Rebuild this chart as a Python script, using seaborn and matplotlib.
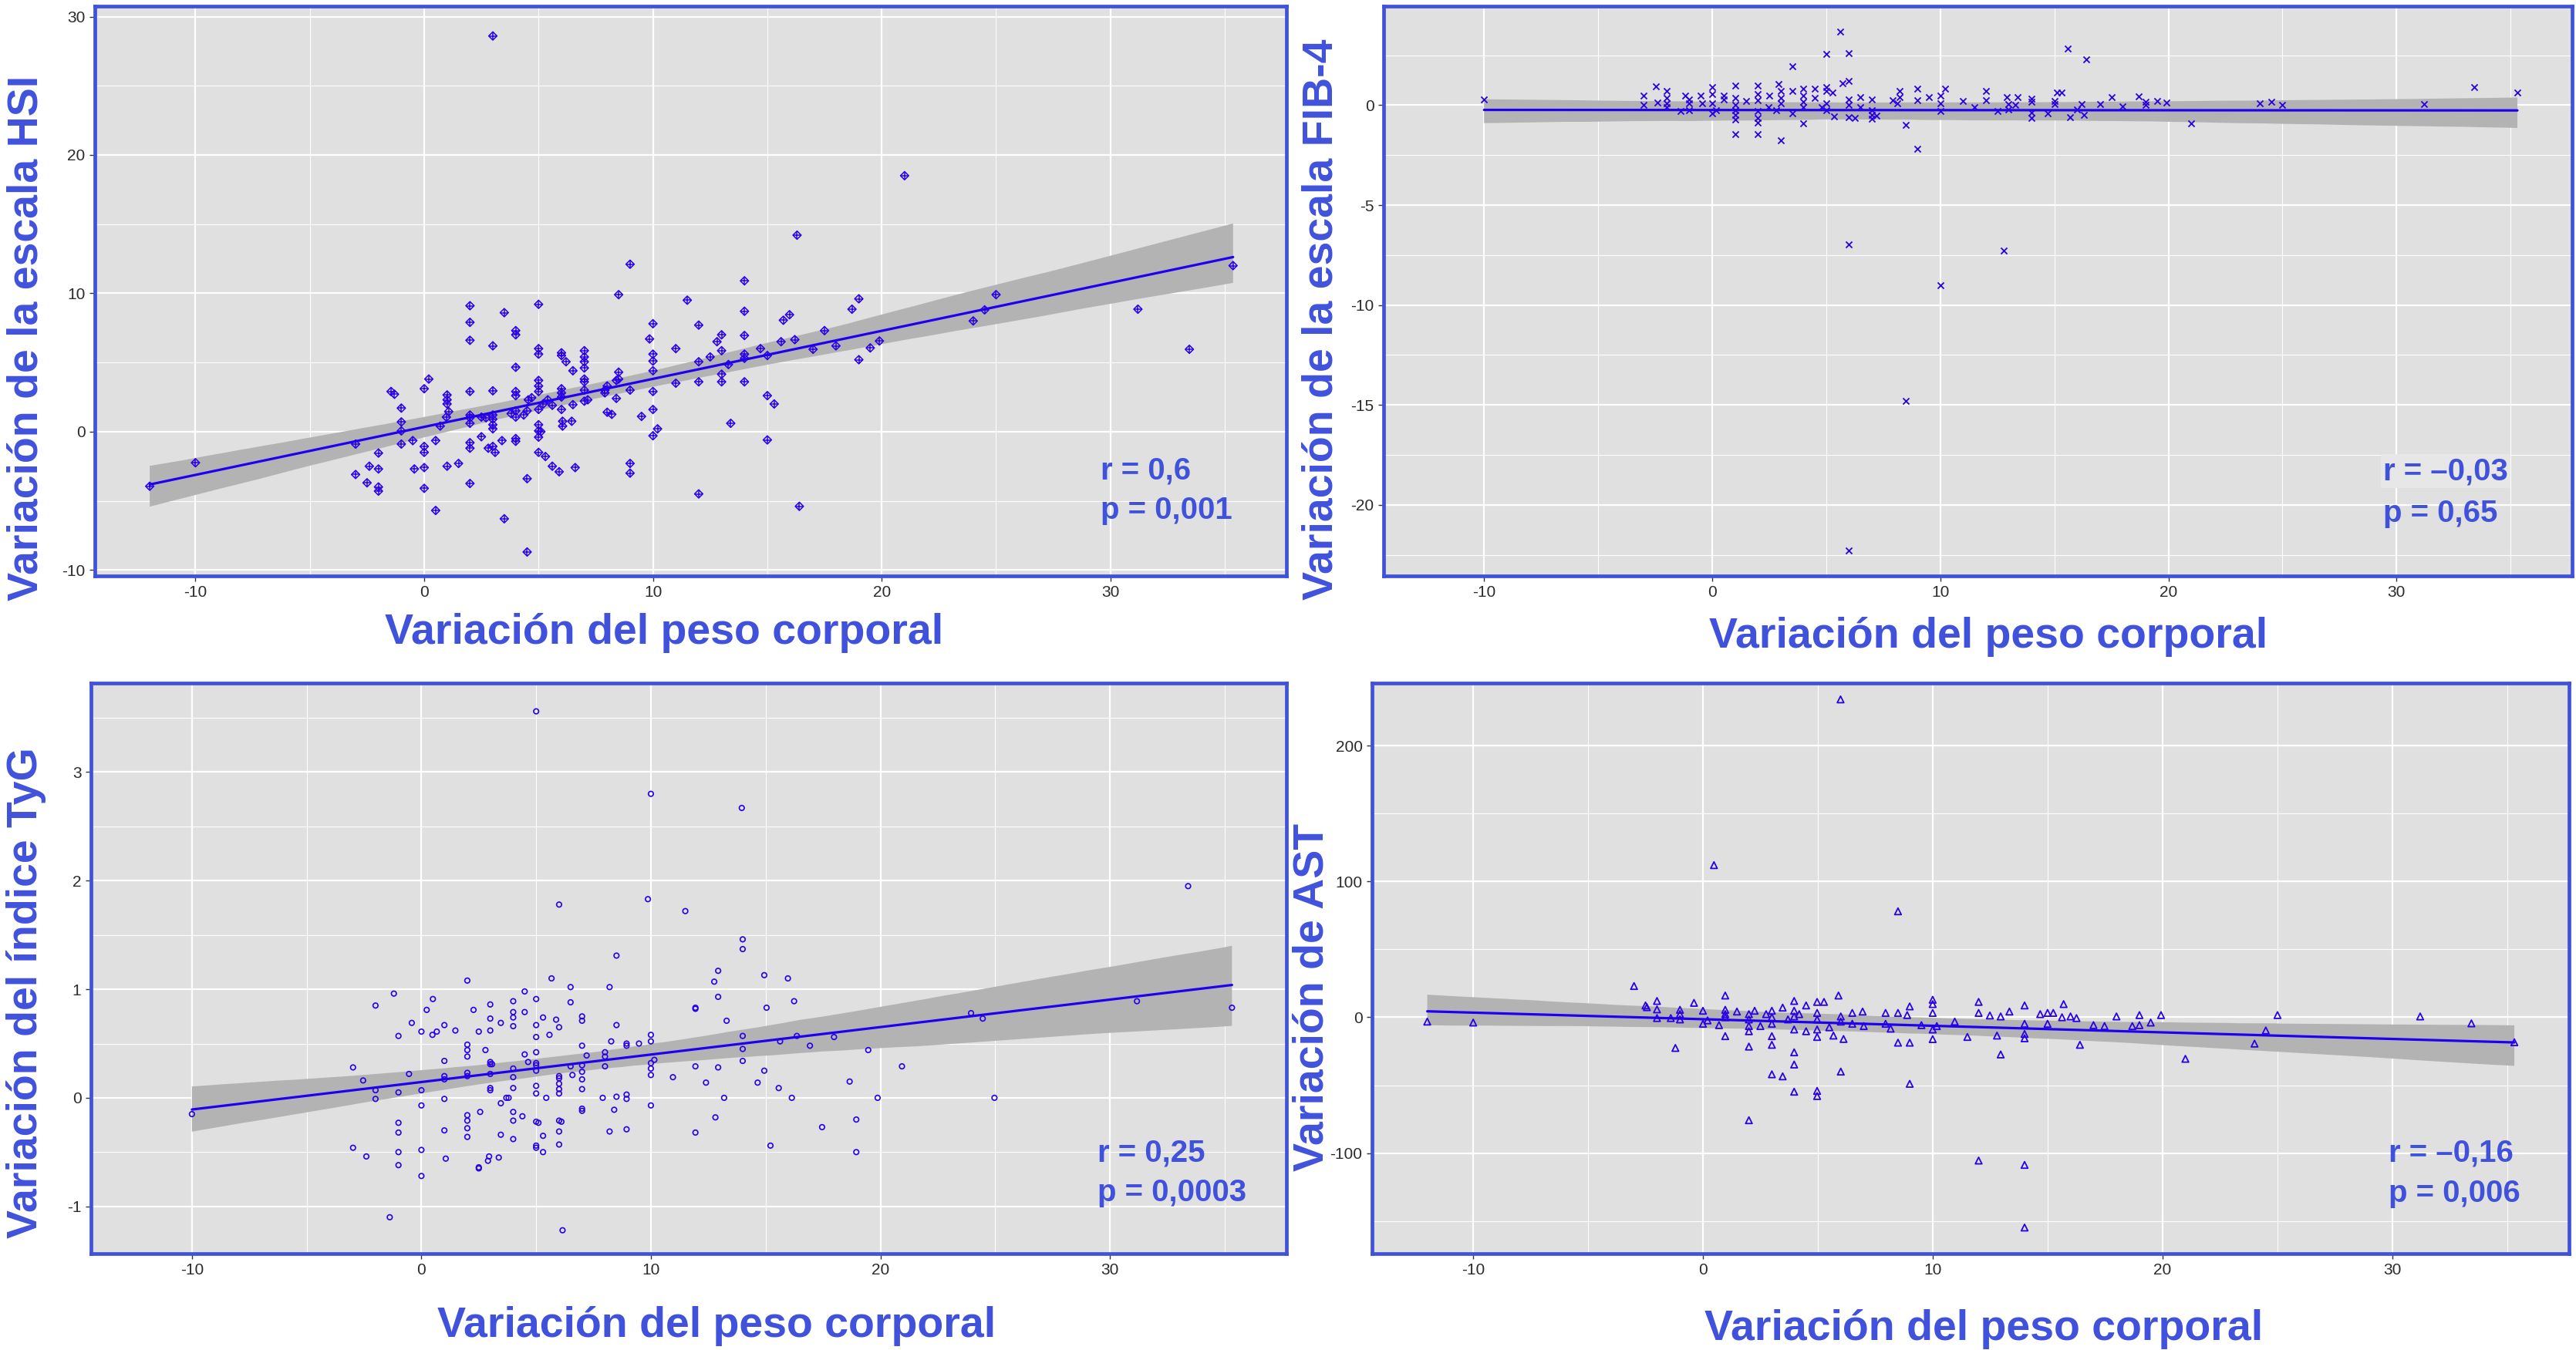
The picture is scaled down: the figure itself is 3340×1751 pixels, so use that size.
import numpy as np
import pandas as pd
import seaborn as sns
import matplotlib.pyplot as plt
from matplotlib.ticker import MultipleLocator

# ---------------- data ----------------
x_label = "Variación del peso corporal"
y_labels = ["Variación de la escala HSI", "Variación de la escala FIB-4",
            "Variación del índice TyG", "Variación de AST"]
r_texts = ["r = 0,6", "r = –0,03", "r = 0,25", "r = –0,16"]
p_texts = ["p = 0,001", "p = 0,65", "p = 0,0003", "p = 0,006"]

hsi_points = [
    (3.0,28.6),(9.0,12.1),(8.5,9.9),(14.0,10.9),(11.5,9.5),(2.0,9.1),(5.0,9.2),(3.5,8.6),(14.0,8.7),
    (2.0,7.9),(10.0,7.8),(12.0,7.7),(4.0,7.3),(4.0,7.0),(14.0,6.95),(13.0,7.0),(12.8,6.5),(2.0,6.6),
    (9.85,6.7),(3.0,6.2),(11.0,6.0),(5.0,6.0),(5.0,5.6),(6.0,5.7),(6.0,5.5),(7.0,5.85),(7.0,5.4),
    (7.0,5.05),(7.0,4.6),(7.0,3.8),(7.0,3.6),(10.0,5.6),(10.0,5.1),(10.0,4.4),(13.0,5.85),(12.5,5.4),
    (12.0,5.05),(13.3,4.85),(14.0,5.6),(14.0,5.3),(14.7,6.0),(15.0,5.5),(4.0,4.65),(6.2,5.05),(6.5,4.4),
    (8.5,4.3),(8.5,3.8),(8.4,3.7),(5.0,3.7),(5.0,3.3),(5.0,2.9),(6.0,3.1),(6.0,2.8),(6.0,2.5),(12.0,3.6),
    (11.0,3.5),(13.0,3.6),(14.0,3.6),(13.0,4.15),(7.0,3.0),(7.0,2.2),(7.15,2.3),(7.9,2.8),(7.9,3.0),
    (8.0,3.3),(8.4,2.4),(9.0,3.0),(10.0,2.9),(10.0,1.6),(9.5,1.1),(10.2,0.2),(10.0,-0.3),(8.0,1.4),
    (8.2,1.25),(13.4,0.6),(15.0,2.6),(15.3,2.0),(15.0,-0.6),(12.0,-4.5),(9.0,-2.3),(9.0,-3.0),(4.0,2.9),
    (4.0,2.6),(4.55,2.3),(4.7,2.45),(5.2,2.0),(5.4,2.3),(5.6,1.9),(5.0,1.6),(4.5,1.5),(4.35,1.2),(4.0,1.5),
    (3.8,1.3),(4.0,1.05),(3.0,2.95),(3.0,1.2),(3.0,0.9),(3.0,0.5),(3.0,0.2),(2.5,1.05),(2.7,1.0),(2.0,1.2),
    (2.0,1.0),(2.0,0.6),(2.0,2.9),(1.0,2.65),(1.0,2.3),(1.0,2.0),(1.07,1.45),(0.97,1.05),(0.7,0.4),
    (0.5,-0.65),(0.0,3.1),(0.2,3.8),(-1.0,1.7),(-1.0,0.7),(-1.0,0.05),(-1.0,-0.9),(-1.3,2.7),(-1.45,2.9),
    (-0.5,-0.65),(0.0,-1.07),(0.0,-1.5),(2.0,-0.8),(2.0,-1.2),(2.5,-0.37),(2.8,-1.2),(3.0,-1.07),
    (3.1,-1.5),(3.4,-0.65),(4.0,-0.5),(4.0,-0.7),(5.0,0.5),(5.0,0.05),(5.0,-0.4),(5.1,0.0),(6.05,0.75),
    (6.05,0.4),(6.45,0.75),(6.0,1.6),(6.5,1.95),(5.0,-1.5),(5.3,-1.8),(5.6,-2.5),(5.9,-2.9),(6.6,-2.6),
    (4.5,-3.4),(3.5,-6.3),(4.5,-8.7),(0.5,-5.7),(2.0,-3.75),(1.0,-2.5),(1.5,-2.3),(0.0,-2.6),(-0.43,-2.7),
    (0.0,-4.1),(-2.0,-1.55),(-2.0,-2.7),(-2.0,-4.0),(-2.0,-4.3),(-2.4,-2.5),(-2.5,-3.7),(-3.0,-3.1),
    (-3.0,-0.9),(-10.0,-2.25),(-12.0,-3.95),(21.0,18.5),(16.3,14.2),(19.0,9.6),(18.7,8.85),(15.7,8.05),
    (15.97,8.45),(17.5,7.3),(15.6,6.5),(16.2,6.65),(17.0,5.95),(18.0,6.2),(19.5,6.05),(19.9,6.55),
    (19.0,5.2),(16.4,-5.4),(24.0,8.0),(24.5,8.8),(25.0,9.9),(31.2,8.85),(33.45,5.95),(35.36,12.0),
]

fib4_points = [
    (-10,0.3),(-3.0,0.5),(-3.0,0.0),(-2.48,0.96),(-2,0.73),(-2,0.36),(-2,0.08),(-2,-0.1),(-2.4,0.13),
    (-1.38,-0.3),(-1.2,0.5),(-1,0.3),(-1,0.08),(-1,-0.26),(-0.5,0.5),(-0.45,0.08),(0,0.9),(0,0.55),
    (0,0.08),(0,-0.4),(0.17,-0.26),(0.52,0.5),(0.52,0.3),(1,0.98),(1,0.36),(1,0.0),(1,-0.26),(1,-0.5),
    (1,-0.7),(1,-1.43),(1.5,0.22),(2,0.98),(2,0.55),(2,0.26),(2,-0.3),(2,-0.64),(2,-0.86),(2,-1.43),
    (2.5,0.5),(2.46,-0.1),(2.9,1.05),(3,0.73),(3,0.36),(3,0.08),(2.8,-0.26),(3,-1.75),(3.5,1.95),
    (3.5,0.73),(3.5,-0.4),(4,0.83),(4,0.5),(4,0.17),(4,-0.1),(4,-0.92),(4.5,0.83),(4.5,0.36),(4.8,-0.1),
    (5,2.57),(5,0.92),(5,0.73),(5,0.08),(5,-0.26),(5.27,0.64),(5.33,-0.55),(5.6,3.7),(5.7,1.1),(6,2.6),
    (6,1.2),(6,0.3),(6,0.0),(6,-0.58),(6,-6.96),(6,-22.3),(6.24,-0.64),(6.5,0.4),(6.5,-0.1),(7,0.3),
    (7,-0.26),(7,-0.5),(7,-0.68),(7.2,-0.52),(7.9,0.26),(8.1,0.08),(8.2,0.73),(8.2,0.4),(8.5,-1.0),
    (8.5,-14.8),(9,0.83),(9,0.26),(9,-2.2),(9.5,0.4),(10,0.5),(10,0.08),(10,-0.3),(10,-9.0),(10.2,0.83),
    (11,0.22),(11.5,-0.1),(12,0.73),(12,0.26),(12.5,-0.3),(12.77,-7.28),(12.9,0.42),(13.0,0.06),
    (13.0,-0.21),(13.4,0.42),(13.3,0),(14,0.34),(14,0.17),(14,-0.36),(14,-0.63),(14.7,-0.4),(15,0.21),
    (15,0.06),(15.1,0.63),(15.3,0.63),(15.6,2.85),(16.4,2.28),(15.7,-0.61),(16,-0.21),(16.3,-0.47),
    (16.2,0.06),(17,0.06),(17.5,0.42),(18,-0.04),(18.7,0.44),(19,0.17),(19,0),(19.5,0.23),(19.9,0.13),
    (21,-0.89),(24,0.1),(24.5,0.17),(25,0),(31.2,0.06),(33.4,0.9),(35.3,0.63),
]

tyg_points = [
    (-10,-0.15),(-2.98,0.28),(-2.98,-0.46),(-2.4,-0.54),(-2.0,0.85),(-2.0,0.07),(-2.0,-0.01),(-2.54,0.16),
    (-1.38,-1.1),(-1.2,0.96),(-1,0.57),(-1,0.05),(-1,-0.23),(-1,-0.32),(-1,-0.5),(-1,-0.62),(-0.54,0.22),
    (-0.42,0.69),(0,0.61),(0,0.07),(0,-0.07),(0,-0.48),(0,-0.72),(0.23,0.81),(0.5,0.91),(0.48,0.58),
    (0.67,0.61),(1,0.67),(1,0.34),(1,0.2),(1,0.17),(1,-0.01),(1,-0.3),(1.06,-0.56),(1.48,0.62),(2,1.08),
    (2,0.49),(2,0.44),(2,0.38),(2,0.23),(2,0.2),(2,-0.16),(2,-0.21),(2,-0.28),(2,-0.36),(2.27,0.81),
    (2.5,0.61),(2.5,-0.64),(2.5,-0.65),(2.56,-0.13),(2.79,0.44),(3,0.86),(3,0.73),(3,0.62),(3,0.33),
    (3,0.31),(3,0.22),(3,0.09),(3,0.07),(2.9,-0.58),(2.95,-0.54),(3.08,0.31),(3.37,-0.55),(3.46,0.69),
    (3.46,-0.05),(3.46,-0.34),(3.7,0.0),(3.8,0.0),(4,0.89),(4,0.79),(4,0.74),(4,0.66),(4,0.27),(4,0.19),
    (4,0.09),(4,-0.13),(4,-0.21),(4,-0.38),(4.4,-0.17),(4.5,0.98),(4.5,0.79),(4.5,0.4),(4.65,0.33),
    (5,3.56),(5,0.91),(5,0.67),(5,0.56),(5,0.42),(5,0.32),(5,0.3),(5,0.25),(5,0.11),(5,0.04),(5,-0.22),
    (5,-0.44),(5,-0.46),(5.1,-0.23),(5.3,0.74),(5.3,-0.35),(5.3,-0.5),(5.44,0.0),(5.58,0.58),(5.67,1.1),
    (5.87,0.72),(6,1.78),(6,0.65),(6,0.2),(6,0.18),(6,0.13),(6,0.08),(6,0.04),(6,-0.21),(6,-0.31),
    (6,-0.43),(6.1,-0.22),(6.15,-1.22),(6.5,1.02),(6.5,0.88),(6.5,0.29),(6.58,0.21),(7,0.75),(7,0.71),
    (7,0.48),(7,0.3),(7,0.24),(7,0.17),(7,0.08),(7,-0.1),(7,-0.12),(7.2,0.39),(7.9,0.0),(8,0.42),(8,0.38),
    (8,0.29),(8.2,1.02),(8.2,-0.31),(8.27,0.52),(8.4,-0.11),(8.5,1.31),(8.5,0.67),(8.5,0.01),(8.94,0.5),
    (8.94,0.48),(8.94,0.03),(8.94,-0.01),(8.94,-0.29),(9.48,0.5),(9.87,1.83),(10,2.8),(10,0.58),(10,0.52),
    (10,0.32),(10,0.27),(10,0.21),(10,-0.07),(10.15,0.35),(10.96,0.19),(11.5,1.72),(13.96,2.67),(14,1.46),
    (14,1.37),(12.93,1.17),(12.76,1.07),(12.93,0.93),(11.94,0.83),(11.94,0.82),(13.3,0.71),(14,0.57),
    (14,0.45),(14,0.34),(14.94,1.13),(15.97,1.1),(15.04,0.83),(16.24,0.89),(16.36,0.57),(15.63,0.52),
    (16.93,0.48),(17.98,0.56),(19.47,0.44),(11.94,0.29),(12.93,0.28),(14.94,0.25),(12.4,0.14),(14.65,0.14),
    (15.57,0.09),(13.19,0.0),(16.14,0.0),(18.66,0.15),(20.94,0.29),(19.88,0.0),(12.81,-0.18),(11.94,-0.32),
    (17.46,-0.27),(18.95,-0.2),(18.95,-0.5),(15.21,-0.44),(23.95,0.78),(24.46,0.73),(24.97,0.0),
    (31.18,0.89),(33.41,1.95),(35.32,0.83),
]

ast_points = [
    (-12,-3.2),(-10,-3.9),(-3,23),(-2.5,8.7),(-2.44,7.4),(-2,12),(-2,5.8),(-2,-0.6),(-1.4,-0.6),
    (-1.2,-22.6),(-1,5.5),(-1,2.3),(-1,-1.6),(-0.39,10.6),(0,4.8),(0,-4.8),(0.2,-2.3),(0.48,112),
    (0.7,-5.8),(0.97,16),(0.97,5.5),(0.97,2.3),(0.97,0),(0.97,-13.9),(1.48,4.2),(2,2.3),(2,-1.6),(2,-6.5),
    (2,-10.3),(2,-21.6),(2,-75.8),(2.25,4.8),(2.5,-6.5),(2.75,2.3),(3,4.8),(3,0),(3,-4.8),(3,-13.9),
    (3,-20.3),(3,-42),(3.47,7.1),(3.47,-43.5),(3.7,-1.6),(3.97,12),(3.97,4.8),(3.97,0.6),(3.97,-9),
    (3.97,-25.8),(3.97,-34.8),(3.97,-54.8),(4.19,2.3),(4.49,8.7),(4.49,-10.3),(4.97,11.3),(4.97,3.2),
    (4.97,-1.6),(4.97,-9),(4.97,-14.5),(4.97,-54.2),(4.97,-58),(5.27,11.3),(5.99,234),(8.49,78),
    (5.5,-7.4),(5.68,-13.5),(5.9,16),(6,0.6),(6,-3.2),(6,-40),(6.12,-16),(6.5,3.2),(6.5,-4.8),(6.95,4.2),
    (7,-6.5),(7.95,3.2),(7.95,-4.8),(8.17,-8.4),(8.49,3.2),(8.49,-18.7),(8.89,1.6),(9,8),(9,-18.7),
    (9,-49),(9.51,-5.8),(10,12.9),(10,9.7),(10,3.2),(10,-9),(10,-16.1),(10.18,-6.5),(10.96,-3.2),
    (11.51,-14.5),(12,11.3),(12,3.2),(12,-105.5),(12.49,1.3),(12.8,-13.5),(12.96,-27.4),(12.96,0.6),
    (13.34,4.2),(14,8.7),(14,-4.8),(14,-12.3),(14,-15.5),(14,-108.7),(14,-154.8),(14.68,2.3),(15,3.2),
    (15.25,3.2),(15,-4.8),(15.7,9.7),(15.63,0),(16,0.6),(16.26,-0.6),(16.41,-20.3),(17,-5.8),(17.48,-6.5),
    (18,0.6),(18.69,-6.5),(19,1.6),(19,-5.8),(19.49,-3.9),(19.94,1.6),(21,-30.6),(24.01,-19.4),
    (24.5,-9.7),(25.01,1.6),(31.22,0.6),(33.45,-4.5),(35.32,-18.4),
]

# ---------------- style ----------------
sns.set_theme(style="darkgrid")
plt.rcParams['font.family'] = ['Liberation Sans', 'DejaVu Sans']
plt.rcParams['axes.unicode_minus'] = False

BLUE_TXT = "#4052dc"
PT_COL = "#2a00e6"
LINE_COL = "#1f00f0"
BAND_COL = "#b3b3b3"
PANEL_BG = "#e0e0e0"

fig = plt.figure(figsize=(33.41, 17.51), dpi=100)

# panel rectangles [left, bottom, width, height] in figure fractions
rects = [
    [0.0368, 0.5734, 0.4625, 0.4222],
    [0.5370, 0.5734, 0.4612, 0.4222],
    [0.0353, 0.0714, 0.4640, 0.4226],
    [0.5325, 0.0714, 0.4645, 0.4226],
]
ylims = [(-10.43, 30.77), (-23.56, 4.97), (-1.435, 3.82), (-174, 246)]
ymajor = [10, 5, 1, 100]
yminor = [5, 2.5, 0.5, 50]
ylabel_pos = [(-0.057, 0.417), (-0.052, 0.45), (-0.054, 0.458), (-0.050, 0.449)]
xlabel_pos = [(0.478, -0.100), (0.509, -0.107), (0.523, -0.127), (0.511, -0.132)]
text_pos = [(0.844, 0.170, 0.100), (0.841, 0.169, 0.095), (0.842, 0.162, 0.092), (0.849, 0.162, 0.091)]

datasets = [hsi_points, fib4_points, tyg_points, ast_points]

for i in range(4):
    ax = fig.add_axes(rects[i])
    ax.set_facecolor(PANEL_BG)
    df = pd.DataFrame(datasets[i], columns=["x", "y"])

    # regression with 95% CI band
    sns.regplot(data=df, x="x", y="y", ax=ax, scatter=False, ci=95, seed=0,
                truncate=True, color=LINE_COL, line_kws=dict(lw=2.3, zorder=4))
    for coll in ax.collections:
        coll.set_facecolor(BAND_COL)
        coll.set_edgecolor("none")
        coll.set_alpha(1)
        coll.set_zorder(2)

    # points
    if i == 0:
        sns.scatterplot(data=df, x="x", y="y", ax=ax, marker="D", s=30,
                        facecolors="none", edgecolor=PT_COL, linewidth=1.1, zorder=3)
        sns.scatterplot(data=df, x="x", y="y", ax=ax, marker="+", s=60,
                        color=PT_COL, linewidth=1.1, zorder=3)
    elif i == 1:
        sns.scatterplot(data=df, x="x", y="y", ax=ax, marker="x", s=34,
                        color=PT_COL, linewidth=1.3, zorder=3)
    elif i == 2:
        sns.scatterplot(data=df, x="x", y="y", ax=ax, marker="o", s=22,
                        facecolors="none", edgecolor=PT_COL, linewidth=1.2, zorder=3)
    else:
        sns.scatterplot(data=df, x="x", y="y", ax=ax, marker="^", s=38,
                        facecolors="none", edgecolor=PT_COL, linewidth=1.3, zorder=3)

    ax.set_xlim(-14.4, 37.7)
    ax.set_ylim(*ylims[i])
    ax.xaxis.set_major_locator(MultipleLocator(10))
    ax.xaxis.set_minor_locator(MultipleLocator(5))
    ax.yaxis.set_major_locator(MultipleLocator(ymajor[i]))
    ax.yaxis.set_minor_locator(MultipleLocator(yminor[i]))
    ax.yaxis.set_major_formatter(plt.FuncFormatter(lambda v, p: f"{v:g}"))
    ax.xaxis.set_major_formatter(plt.FuncFormatter(lambda v, p: f"{v:g}"))

    ax.grid(which="major", color="white", lw=1.6)
    ax.grid(which="minor", color="white", lw=0.8)
    ax.set_axisbelow(True)

    ax.tick_params(which="major", length=5, width=1.0, color="#333333",
                   labelsize=15, labelcolor="#2b2b2b", pad=4,
                   bottom=True, left=True)
    ax.tick_params(which="minor", length=0)

    for sp in ax.spines.values():
        sp.set_visible(True)
        sp.set_color(BLUE_TXT)
        sp.set_linewidth(3.4)
        sp.set_zorder(6)

    ax.set_xlabel(x_label, fontsize=40, fontweight="bold", color=BLUE_TXT)
    ax.set_ylabel(y_labels[i], fontsize=40, fontweight="bold", color=BLUE_TXT)
    ax.xaxis.label.set_verticalalignment("center")
    ax.yaxis.label.set_verticalalignment("center")
    ax.xaxis.set_label_coords(*xlabel_pos[i])
    ax.yaxis.set_label_coords(*ylabel_pos[i])

    tx, ty_r, ty_p = text_pos[i]
    bbox = dict(facecolor="#e7e7e7", edgecolor="none", pad=2) if i == 1 else None
    ax.text(tx, ty_r, r_texts[i], transform=ax.transAxes, fontsize=29,
            fontweight="bold", color=BLUE_TXT, ha="left", va="baseline",
            bbox=bbox, zorder=7)
    ax.text(tx, ty_p, p_texts[i], transform=ax.transAxes, fontsize=29,
            fontweight="bold", color=BLUE_TXT, ha="left", va="baseline", zorder=7)

fig.savefig("out.png", dpi=100, facecolor="white")
